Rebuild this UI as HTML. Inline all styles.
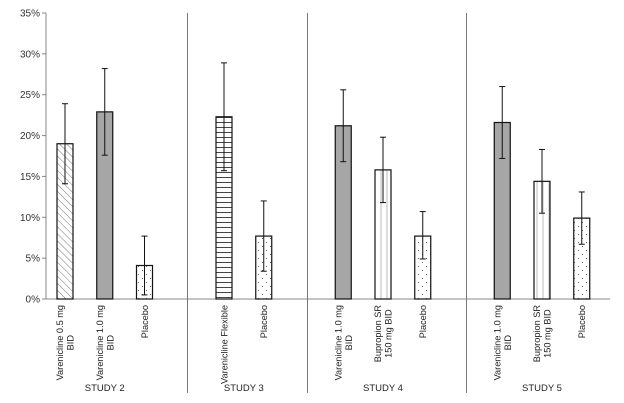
<!DOCTYPE html>
<html><head><meta charset="utf-8"><style>
html,body{margin:0;padding:0;background:#fff;}
svg{display:block;font-family:"Liberation Sans",Arial,sans-serif;}
</style></head><body>
<svg id="chart" width="624" height="403" viewBox="0 0 624 403" xmlns="http://www.w3.org/2000/svg">
<defs>
<pattern id="p-diag" width="5" height="5" patternUnits="userSpaceOnUse" patternTransform="rotate(-45)"><rect width="5" height="5" fill="#fff"/><line x1="0" y1="0" x2="0" y2="5" stroke="#777" stroke-width="1"/></pattern>
<pattern id="p-horiz" width="6" height="5" patternUnits="userSpaceOnUse"><rect width="6" height="5" fill="#fff"/><line x1="0" y1="2.5" x2="6" y2="2.5" stroke="#444" stroke-width="1"/></pattern>
<pattern id="p-dots" width="8" height="8" patternUnits="userSpaceOnUse"><rect width="8" height="8" fill="#fff"/><rect x="2" y="2" width="1" height="1" fill="#666"/><rect x="6" y="6" width="1" height="1" fill="#666"/></pattern>
<pattern id="p-vert" width="6" height="6" patternUnits="userSpaceOnUse"><rect width="6" height="6" fill="#fff"/><line x1="3" y1="0" x2="3" y2="6" stroke="#bbb" stroke-width="1"/></pattern>
</defs>
<g id="axes"></g>
<g id="bars"></g>
<g id="labels"></g>
</svg>
<script>
const categories = ["Varenicline 0.5 mg|BID","Varenicline 1.0 mg|BID","Placebo","Varenicline Flexible","Placebo","Varenicline 1.0 mg|BID","Bupropion SR|150 mg BID","Placebo","Varenicline 1.0 mg|BID","Bupropion SR|150 mg BID","Placebo"];
const slots = [0,1,2,4,5,7,8,9,11,12,13];
const values = [19.0,22.9,4.1,22.3,7.7,21.2,15.8,7.7,21.6,14.4,9.9];
const errLow = [14.1,17.6,0.5,15.7,3.4,16.8,11.8,4.9,17.2,10.5,6.7];
const errHigh = [23.9,28.2,7.7,28.9,12.0,25.6,19.8,10.7,26.0,18.3,13.1];
const fills = ["url(#p-diag)","#a6a6a6","url(#p-dots)","url(#p-horiz)","url(#p-dots)","#a6a6a6","url(#p-vert)","url(#p-dots)","#a6a6a6","url(#p-vert)","url(#p-dots)"];
const yTicks = [0,5,10,15,20,25,30,35];
const studies = ["STUDY 2","STUDY 3","STUDY 4","STUDY 5"];
const studyCenters = [1,4.5,8,12];
const dividers = [3.08,6.1,10.1];

const NS="http://www.w3.org/2000/svg";
const y0=299, yTop=13, yMax=35;
const yS=v=>y0-(v/yMax)*(y0-yTop);
const xS=s=>65+s*39.75;
const barW=16;
function mk(t,a,p){const e=document.createElementNS(NS,t);for(const k in a)e.setAttribute(k,a[k]);p.appendChild(e);return e;}
const axes=document.getElementById('axes'),bars=document.getElementById('bars'),labels=document.getElementById('labels');

const ya=mk('line',{x1:46,y1:yTop,x2:46,y2:y0,stroke:'#888','stroke-width':1},axes);


const xa=mk('line',{x1:46,y1:y0,x2:610,y2:y0,stroke:'#888','stroke-width':1},axes);


yTicks.forEach(t=>{
  const y=yS(t);
  const tk=mk('line',{x1:42,y1:y,x2:46,y2:y,stroke:'#888'},axes);
  
  
  const tx=mk('text',{x:40,y:y+3.5,'text-anchor':'end','font-size':10,fill:'#333'},axes);
  tx.textContent=t+'%';
  
  
});
dividers.forEach(d=>{
  const x=Math.round(xS(d))+0.5;
  const l=mk('line',{x1:x,y1:yTop,x2:x,y2:393,stroke:'#777','stroke-width':1},axes);
  
  
});
values.forEach((v,i)=>{
  const cx=xS(slots[i]);
  const r=mk('rect',{x:cx-barW/2,y:yS(v),width:barW,height:y0-yS(v),fill:fills[i],stroke:'#111','stroke-width':1.2},bars);
  
  
  const g=mk('g',{stroke:'#111','stroke-width':1},bars);
  
  
  mk('line',{x1:cx,y1:yS(errLow[i]),x2:cx,y2:yS(errHigh[i])},g);
  mk('line',{x1:cx-3,y1:yS(errLow[i]),x2:cx+3,y2:yS(errLow[i])},g);
  mk('line',{x1:cx-3,y1:yS(errHigh[i]),x2:cx+3,y2:yS(errHigh[i])},g);
  const parts=categories[i].split('|');
  const t=mk('text',{'text-anchor':'middle','font-size':9.2,fill:'#222'},labels);
  
  
  const n=parts.length;
  const spans=parts.map((p,j)=>{
    const ts=mk('tspan',{x:0,y:(j-(n-1)/2)*10.5+3.3},t);
    ts.textContent=p;
    return ts;
  });
  let w=0;
  spans.forEach(s=>{w=Math.max(w,s.getComputedTextLength());});
  t.setAttribute('transform',`translate(${cx},${305+w/2}) rotate(-90)`);
});
studies.forEach((s,i)=>{
  const t=mk('text',{x:xS(studyCenters[i]),y:391,'text-anchor':'middle','font-size':9.5,fill:'#222'},labels);
  t.textContent=s;
  
  
});
</script>
</body></html>
